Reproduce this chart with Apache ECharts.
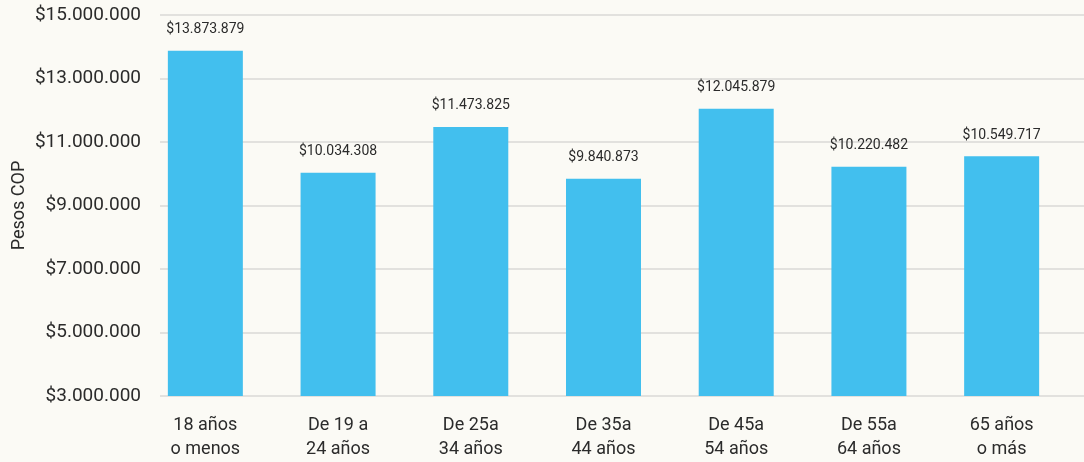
<!DOCTYPE html>
<html>
<head>
<meta charset="utf-8">
<script src="https://cdn.jsdelivr.net/npm/echarts@6/dist/echarts.min.js"></script>
<style>
  html, body { margin: 0; padding: 0; background: #fbfaf5; }
  #chart { width: 1084px; height: 462px; }
</style>
</head>
<body>
<div id="chart"></div>
<script>
var categories = ['18 años\no menos', 'De 19 a\n24 años', 'De 25a\n34 años', 'De 35a\n44 años',
                  'De 45a\n54 años', 'De 55a\n64 años', '65 años\no más'];
var values = [13873879, 10034308, 11473825, 9840873, 12045879, 10220482, 10549717];
var yMin = 3000000, yMax = 15000000, yStep = 2000000;

function pesos(v) {
    // separador de miles con punto
    return '$' + String(Math.round(v)).replace(/\B(?=(\d{3})+(?!\d))/g, '.');
}

var myChart = echarts.init(document.getElementById('chart'));
var fontFam = 'Roboto';

var option = {
    backgroundColor: '#fbfaf5',
    textStyle: { fontFamily: fontFam },
    grid: [
        // rejilla para las lineas y etiquetas del eje y
        { left: 160, right: 0, top: 15, bottom: 66 },
        // rejilla para las barras
        { left: 139, right: 16, top: 15, bottom: 66 }
    ],
    xAxis: [
        { type: 'category', gridIndex: 0, data: categories, show: false },
        {
            type: 'category', gridIndex: 1, data: categories,
            axisLine: { show: false },
            axisTick: { show: false },
            axisLabel: { color: '#2b2b2b', fontSize: 18, lineHeight: 24, margin: 17, fontFamily: fontFam }
        }
    ],
    yAxis: [
        {
            type: 'value', gridIndex: 0, min: yMin, max: yMax, interval: yStep,
            name: 'Pesos COP', nameLocation: 'middle', nameGap: 132, nameMoveOverlap: false,
            nameTextStyle: { color: '#2b2b2b', fontSize: 18, fontFamily: fontFam },
            axisLine: { show: false },
            axisTick: { show: false },
            axisLabel: { color: '#2b2b2b', fontSize: 19, margin: 19, formatter: pesos, fontFamily: fontFam },
            splitLine: { lineStyle: { color: '#e2e1de', width: 2 } }
        },
        {
            type: 'value', gridIndex: 1, min: yMin, max: yMax, interval: yStep,
            show: false, splitLine: { show: false }
        }
    ],
    series: [
        {
            name: 'Pesos COP',
            type: 'bar',
            xAxisIndex: 1,
            yAxisIndex: 1,
            barWidth: 75,
            data: values,
            itemStyle: { color: '#42bfee' },
            label: {
                show: true,
                position: 'top',
                distance: 14,
                color: '#2b2b2b',
                fontSize: 14,
                fontFamily: fontFam,
                formatter: function (p) { return pesos(p.value); }
            }
        }
    ]
};
myChart.setOption(option);
</script>
</body>
</html>
